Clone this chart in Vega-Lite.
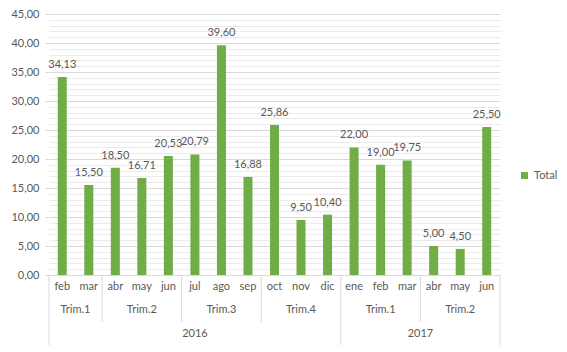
{
  "$schema": "https://vega.github.io/schema/vega-lite/v6.json",
  "background": "white",
  "padding": {"left": 10, "top": 8, "right": 0, "bottom": 0},
  "spacing": 0,
  "bounds": "flush",
  "config": {
    "locale": {"number": {"decimal": ",", "thousands": ".", "grouping": [3], "currency": ["", " €"]}},
    "font": "Lato",
    "view": {"stroke": null},
    "concat": {"spacing": 0},
    "axis": {"labelFont": "Lato", "labelFontSize": 11, "labelColor": "#595959"},
    "text": {"font": "Lato", "fontSize": 11, "color": "#595959"}
  },
  "datasets": {
    "meses": [
      {"clave": "2016-02", "anio": "2016", "trim": "Trim.1", "mes": "feb", "total": 34.13},
      {"clave": "2016-03", "anio": "2016", "trim": "Trim.1", "mes": "mar", "total": 15.50},
      {"clave": "2016-04", "anio": "2016", "trim": "Trim.2", "mes": "abr", "total": 18.50},
      {"clave": "2016-05", "anio": "2016", "trim": "Trim.2", "mes": "may", "total": 16.71},
      {"clave": "2016-06", "anio": "2016", "trim": "Trim.2", "mes": "jun", "total": 20.53},
      {"clave": "2016-07", "anio": "2016", "trim": "Trim.3", "mes": "jul", "total": 20.79},
      {"clave": "2016-08", "anio": "2016", "trim": "Trim.3", "mes": "ago", "total": 39.60},
      {"clave": "2016-09", "anio": "2016", "trim": "Trim.3", "mes": "sep", "total": 16.88},
      {"clave": "2016-10", "anio": "2016", "trim": "Trim.4", "mes": "oct", "total": 25.86},
      {"clave": "2016-11", "anio": "2016", "trim": "Trim.4", "mes": "nov", "total": 9.50},
      {"clave": "2016-12", "anio": "2016", "trim": "Trim.4", "mes": "dic", "total": 10.40},
      {"clave": "2017-01", "anio": "2017", "trim": "Trim.1", "mes": "ene", "total": 22.00},
      {"clave": "2017-02", "anio": "2017", "trim": "Trim.1", "mes": "feb", "total": 19.00},
      {"clave": "2017-03", "anio": "2017", "trim": "Trim.1", "mes": "mar", "total": 19.75},
      {"clave": "2017-04", "anio": "2017", "trim": "Trim.2", "mes": "abr", "total": 5.00},
      {"clave": "2017-05", "anio": "2017", "trim": "Trim.2", "mes": "may", "total": 4.50},
      {"clave": "2017-06", "anio": "2017", "trim": "Trim.2", "mes": "jun", "total": 25.50}
    ],
    "trims": [
      {"trim": "Trim.1", "ref": "2016-03", "n": 2},
      {"trim": "Trim.2", "ref": "2016-05", "n": 3},
      {"trim": "Trim.3", "ref": "2016-08", "n": 3},
      {"trim": "Trim.4", "ref": "2016-11", "n": 3},
      {"trim": "Trim.1", "ref": "2017-02", "n": 3},
      {"trim": "Trim.2", "ref": "2017-05", "n": 3}
    ],
    "anios": [
      {"anio": "2016", "ref": "2016-07", "n": 11},
      {"anio": "2017", "ref": "2017-04", "n": 6}
    ],
    "limites_trim": [
      {"clave": "2016-02"}, {"clave": "2016-04"}, {"clave": "2016-07"},
      {"clave": "2016-10"}, {"clave": "2017-01"}, {"clave": "2017-04"}
    ],
    "limites_anio": [
      {"clave": "2016-02"}, {"clave": "2017-01"}
    ]
  },
  "vconcat": [
    {
      "width": 451,
      "height": 261,
      "data": {"name": "meses"},
      "layer": [
        {
          "mark": {"type": "bar", "width": {"band": 0.34}},
          "encoding": {
            "x": {"field": "clave", "type": "nominal",
                  "scale": {"type": "band", "domain": ["2016-02","2016-03","2016-04","2016-05","2016-06","2016-07","2016-08","2016-09","2016-10","2016-11","2016-12","2017-01","2017-02","2017-03","2017-04","2017-05","2017-06"], "paddingInner": 0, "paddingOuter": 0},
                  "axis": {"labels": false, "ticks": false, "title": null, "domainColor": "#D9D9D9", "grid": false}},
            "y": {"field": "total", "type": "quantitative",
                  "scale": {"domain": [0, 45], "nice": false, "zero": true},
                  "axis": {"orient": "left", "values": [0,1,2,3,4,5,6,7,8,9,10,11,12,13,14,15,16,17,18,19,20,21,22,23,24,25,26,27,28,29,30,31,32,33,34,35,36,37,38,39,40,41,42,43,44,45],
                           "tickCount": 100,
                           "labelExpr": "datum.value % 5 == 0 ? datum.label : ''",
                           "format": ".2f", "title": null, "domain": false,
                           "tickColor": "#D9D9D9", "tickSize": 4, "labelPadding": 6,
                           "tickOpacity": {"condition": {"test": "datum.value % 5 == 0", "value": 1}, "value": 0},
                           "gridColor": {"condition": {"test": "datum.value % 5 == 0", "value": "#D9D9D9"}, "value": "#EBEBEB"},
                           "labelOverlap": false}},
            "color": {"datum": "Total", "type": "nominal", "scale": {"range": ["#70AD47"]},
                      "legend": {"title": null, "orient": "none", "legendX": 470, "legendY": 156, "padding": 0, "symbolType": "square", "symbolSize": 49, "symbolStrokeWidth": 0, "labelFont": "Lato", "labelFontSize": 11, "labelColor": "#595959"}}
          }
        },
        {
          "mark": {"type": "text", "baseline": "alphabetic", "dy": -9},
          "encoding": {
            "x": {"field": "clave", "type": "nominal", "scale": {"type": "band"}},
            "y": {"field": "total", "type": "quantitative"},
            "text": {"field": "total", "type": "quantitative", "format": ".2f"}
          }
        }
      ]
    },
    {
      "width": 451,
      "height": 47,
      "layer": [
        {
          "data": {"name": "limites_trim"},
          "mark": {"type": "rule", "color": "#D9D9D9"},
          "encoding": {
            "x": {"field": "clave", "type": "nominal", "bandPosition": 0,
                  "scale": {"type": "band", "domain": ["2016-02","2016-03","2016-04","2016-05","2016-06","2016-07","2016-08","2016-09","2016-10","2016-11","2016-12","2017-01","2017-02","2017-03","2017-04","2017-05","2017-06"], "paddingInner": 0, "paddingOuter": 0},
                  "axis": null}
          }
        },
        {
          "data": {"name": "meses"},
          "mark": {"type": "rule", "color": "#D9D9D9"},
          "transform": [{"filter": "datum.clave == '2017-06'"}],
          "encoding": {
            "x": {"field": "clave", "type": "nominal", "bandPosition": 1, "axis": null}
          }
        },
        {
          "data": {"name": "meses"},
          "mark": {"type": "text", "baseline": "middle"},
          "encoding": {
            "x": {"field": "clave", "type": "nominal", "axis": null},
            "y": {"datum": "mes", "type": "nominal", "scale": {"type": "point", "domain": ["mes", "trim"]}, "axis": null},
            "text": {"field": "mes"}
          }
        },
        {
          "data": {"name": "trims"},
          "transform": [{"filter": "datum.n % 2 == 1"}],
          "mark": {"type": "text", "baseline": "middle"},
          "encoding": {
            "x": {"field": "ref", "type": "nominal", "axis": null},
            "y": {"datum": "trim", "type": "nominal", "axis": null},
            "text": {"field": "trim"}
          }
        },
        {
          "data": {"name": "trims"},
          "transform": [{"filter": "datum.n % 2 == 0"}],
          "mark": {"type": "text", "baseline": "middle"},
          "encoding": {
            "x": {"field": "ref", "type": "nominal", "bandPosition": 0, "axis": null},
            "y": {"datum": "trim", "type": "nominal", "axis": null},
            "text": {"field": "trim"}
          }
        }
      ]
    },
    {
      "width": 451,
      "height": 23,
      "layer": [
        {
          "data": {"name": "limites_anio"},
          "mark": {"type": "rule", "color": "#D9D9D9"},
          "encoding": {
            "x": {"field": "clave", "type": "nominal", "bandPosition": 0,
                  "scale": {"type": "band", "domain": ["2016-02","2016-03","2016-04","2016-05","2016-06","2016-07","2016-08","2016-09","2016-10","2016-11","2016-12","2017-01","2017-02","2017-03","2017-04","2017-05","2017-06"], "paddingInner": 0, "paddingOuter": 0},
                  "axis": null}
          }
        },
        {
          "data": {"name": "meses"},
          "mark": {"type": "rule", "color": "#D9D9D9"},
          "transform": [{"filter": "datum.clave == '2017-06'"}],
          "encoding": {
            "x": {"field": "clave", "type": "nominal", "bandPosition": 1, "axis": null}
          }
        },
        {
          "data": {"name": "anios"},
          "transform": [{"filter": "datum.n % 2 == 1"}],
          "mark": {"type": "text", "baseline": "middle"},
          "encoding": {
            "x": {"field": "ref", "type": "nominal", "axis": null},
            "text": {"field": "anio"}
          }
        },
        {
          "data": {"name": "anios"},
          "transform": [{"filter": "datum.n % 2 == 0"}],
          "mark": {"type": "text", "baseline": "middle"},
          "encoding": {
            "x": {"field": "ref", "type": "nominal", "bandPosition": 0, "axis": null},
            "text": {"field": "anio"}
          }
        }
      ]
    }
  ]
}
